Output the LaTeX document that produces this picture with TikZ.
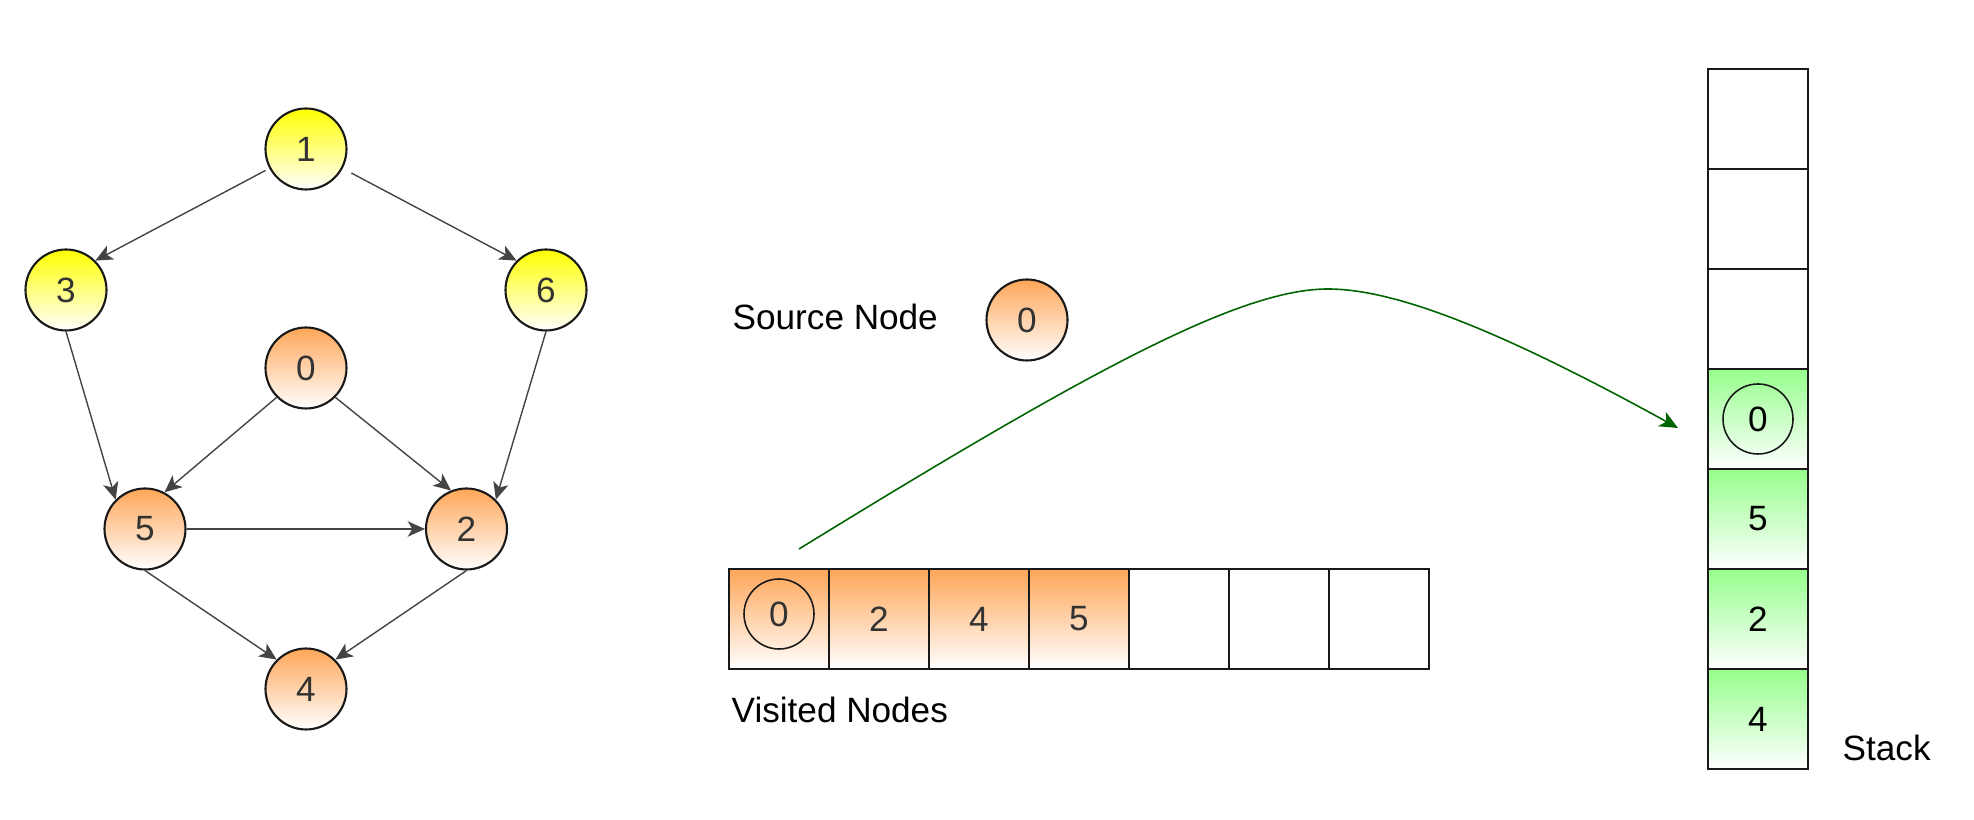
\documentclass[tikz,border=0pt]{standalone}
\usepackage{fontspec}
\setmainfont{Liberation Sans}
\usepackage{xcolor}
\usepackage{tikz}
\usetikzlibrary{arrows.meta, shapes, positioning}
\definecolor{dfsyellow}{RGB}{255,255,0}
\definecolor{dfsorange}{RGB}{255,166,88}
\definecolor{dfsgreen}{RGB}{150,255,140}
\definecolor{edgegray}{RGB}{68,68,68}
\definecolor{textgray}{RGB}{51,51,51}
\definecolor{curvegreen}{RGB}{0,100,0}

\begin{document}
\begin{tikzpicture}[n/.style={draw=black!90, line width=0.6pt, circle, minimum size=0.81cm, inner sep=0pt, text=textgray, bottom color=white},
      ny/.style={n, top color=dfsyellow},
      no/.style={n, top color=dfsorange},
      a/.style={draw=edgegray, line width=0.4pt, -{Stealth[length=4.9pt,width=4.4pt,inset=1.3pt]}},
      b/.style={draw=black!90, line width=0.6pt, minimum size=1cm, inner sep=0pt, outer sep=0pt},
      bv/.style={b, top color=dfsorange, bottom color=white, text=textgray},
      bs/.style={b, top color=dfsgreen, bottom color=white},
      r/.style={draw=black!90, line width=0.45pt, circle, minimum size=0.7cm, inner sep=0pt},
      l/.style={anchor=base west, inner sep=0pt}]
      \useasboundingbox (0,0) rectangle (19.74,8.2);

      % graph
      \draw node[ny] (n1) at (3.06,6.71) {1};
      \draw node[ny] (n3) at (0.66,5.30) {3} node[ny] (n6) at (5.46,5.30) {6};
      \draw node[no] (n0) at (3.06,4.52) {0};
      \draw node[no] (n5) at (1.45,2.91) {5} node[no] (n2) at (4.665,2.91) {2};
      \draw node[no] (n4) at (3.06,1.31) {4};
      \draw[a, shorten <=1.2pt] (n1) -- (n3.north east);
      \draw[a, shorten <=2.8pt] (n1) -- (n6.north west);
      \draw[a] (n3.south) -- (n5.north west);
      \draw[a] (n6.south) -- (n2.north east);
      \draw[a] (n0.south west) -- (n5.62);
      \draw[a] (n0.south east) -- (n2.112);
      \draw[a] (n5) -- (n2);
      \draw[a] (n5.south) -- (n4.north west);
      \draw[a] (n2.south) -- (n4.north east);

      % source node
      \node[l] (src) at (7.32,4.90) {Source Node};
      \draw node[no] (s0) at (10.27,5.00) {0};

      % visited nodes
      \draw node[bv] (v1) at (7.79,2.01) {} node[bv, right=0pt of v1] (v2) {2} node[bv, right=0pt of v2] (v3) {4}
        node[bv, right=0pt of v3] (v4) {5} node[b, right=0pt of v4] (v5) {} node[b, right=0pt of v5] (v6) {}
        node[b, right=0pt of v6] (v7) {};
      \draw node[r, text=textgray] (v1r) at ([yshift=0.05cm]v1.center) {0};
      \node[l] (vis) at (7.31,0.97) {Visited Nodes};

      % stack
      \draw node[b] (st1) at (17.58,7.01) {} node[b, below=0pt of st1] (st2) {} node[b, below=0pt of st2] (st3) {}
        node[bs, below=0pt of st3] (st4) {} node[bs, below=0pt of st4] (st5) {5} node[bs, below=0pt of st5] (st6) {2}
        node[bs, below=0pt of st6] (st7) {4};
      \draw node[r] (st4r) at (st4.center) {0};
      \node[l] (stk) at (18.42,0.595) {Stack};

      % push arrow
      \coordinate (cs) at (7.99,2.71);
      \coordinate (cp) at (13.28,5.31);
      \coordinate (ce) at (16.78,3.92);
      \draw[curvegreen, line width=0.45pt, -{Stealth[length=5.2pt,width=4.6pt,inset=1.4pt]}] (cs) .. controls (10.90,4.50) and (12.40,5.31) .. (cp)
        .. controls (13.95,5.31) and (15.00,4.90) .. (ce);
    \end{tikzpicture}
\end{document}
